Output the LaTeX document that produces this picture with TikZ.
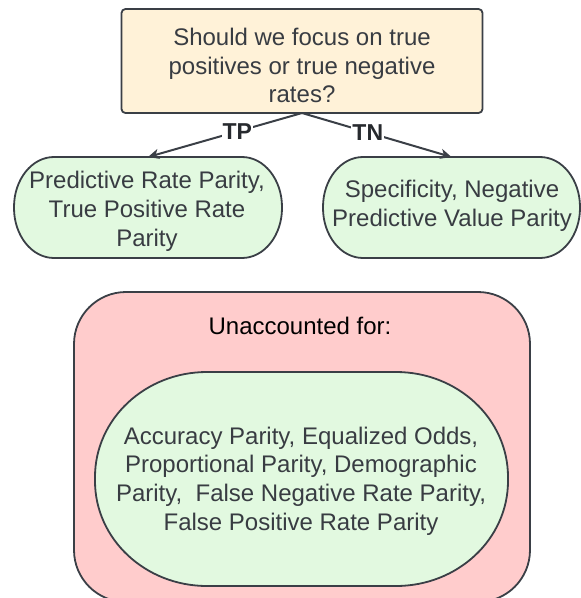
\documentclass[tikz,border=0pt]{standalone}
\usepackage{fontspec}
\setmainfont{Liberation Sans}
\usetikzlibrary{arrows.meta}

\definecolor{edge}{RGB}{58,63,70}
\definecolor{ink}{RGB}{56,60,66}
\definecolor{askfill}{RGB}{255,242,216}
\definecolor{metricfill}{RGB}{226,249,224}
\definecolor{gapfill}{RGB}{255,204,204}

% rounded box with elliptical ends, traced round the corners of a node
\newcommand\ovalpath[3]{%
  ([xshift=#2]#1.north west) -- ([xshift=-#2]#1.north east)
  arc[start angle=90,end angle=0,x radius=#2,y radius=#3]
  -- ([yshift=#3]#1.south east)
  arc[start angle=0,end angle=-90,x radius=#2,y radius=#3]
  -- ([xshift=#2]#1.south west)
  arc[start angle=270,end angle=180,x radius=#2,y radius=#3]
  -- ([yshift=-#3]#1.north west)
  arc[start angle=180,end angle=90,x radius=#2,y radius=#3] -- cycle}

\begin{document}
\begin{tikzpicture}[x=1pt,y=1pt,
  frame/.style={inner sep=0pt, outer sep=0pt},
  txt/.style={text=ink, font=\fontsize{24}{28.8}\selectfont, align=center, inner sep=0pt},
  oval/.style={draw=edge, line width=1.8pt, fill=metricfill},
  conn/.style={draw=edge, line width=2pt, -{Stealth[length=11pt,width=10pt,inset=3pt]}},
  tag/.style={fill=white, text=ink!70!black, font=\bfseries\fontsize{23}{26}\selectfont, inner sep=1pt}]
\useasboundingbox (0,0) rectangle (581,-598);

% panel of the criteria left out (continues past the lower edge)
\node[frame, minimum width=456, minimum height=310] (U) at (302,-447) {};
\draw[draw=edge, line width=1.8pt, fill=gapfill, rounded corners=52pt]
  (U.north west) rectangle (U.south east);

% metric groups
\node[frame, minimum width=413, minimum height=214] (E) at (301.5,-479) {};
\draw[oval] \ovalpath{E}{112pt}{105pt};
\node[frame, minimum width=268, minimum height=101] (L) at (148,-207.5) {};
\draw[oval] \ovalpath{L}{40pt}{50pt};
\node[frame, minimum width=257, minimum height=101] (R) at (451.5,-207.5) {};
\draw[oval] \ovalpath{R}{40pt}{50pt};

% question
\node[frame, draw=edge, line width=1.8pt, fill=askfill, rounded corners=4pt,
      minimum width=361, minimum height=104] (q) at (302,-61) {};

% branches
\draw[conn] (q.south) -- node[tag, pos=.42] (tp) {TP} (L.north);
\draw[conn] (q.south) -- node[tag, pos=.44] (tn) {TN} (R.north);

% texts
\node[txt] (qt) at (302,-65.6) {Should we focus on true\\positives or true negative\\rates?};
\node[txt] (Lt) at (147,-211.5) {Predictive Rate Parity,\\True Positive Rate\\Parity};
\node[txt] (Rt) at (452,-205.7) {Specificity, Negative\\Predictive Value Parity};
\node[txt, text=black, anchor=base] (Ut) at (300,-334) {Unaccounted for:};
\node[txt] (Et) at (301,-481) {Accuracy Parity, Equalized Odds,\\Proportional Parity, Demographic\\Parity,\ \ False Negative Rate Parity,\\False Positive Rate Parity};
\end{tikzpicture}
\end{document}
